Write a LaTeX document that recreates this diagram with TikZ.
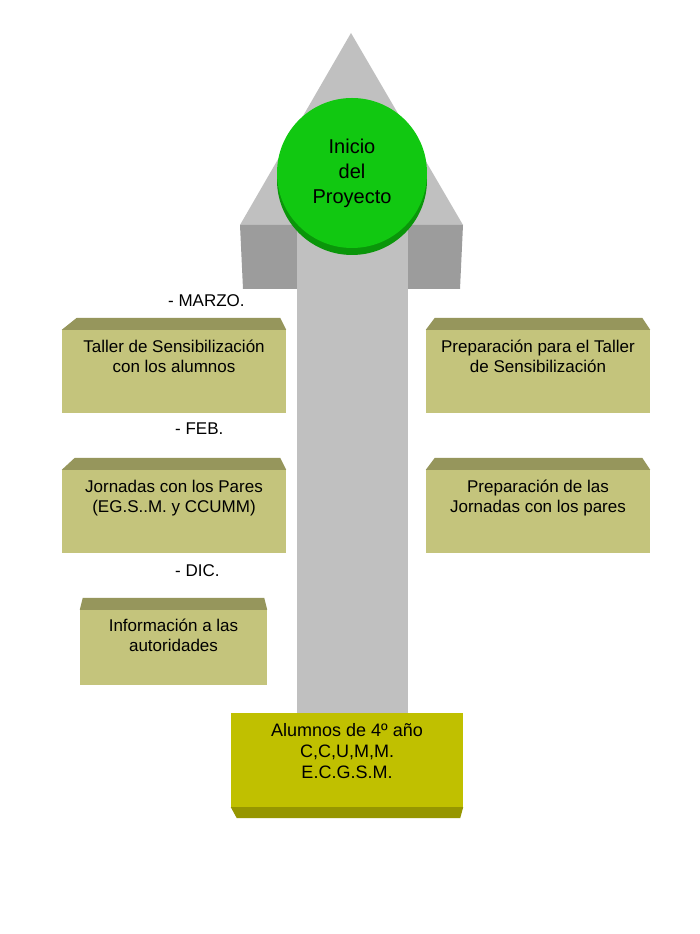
\documentclass[tikz,border=0pt]{standalone}
\usepackage{fontspec}
\setmainfont{Liberation Sans}
\usetikzlibrary{positioning, shadows}

\definecolor{arrowgray}{RGB}{192,192,192}
\definecolor{arrowdark}{RGB}{156,156,156}
\definecolor{startgreen}{RGB}{17,200,17}
\definecolor{startdark}{RGB}{10,150,10}
\definecolor{olive}{RGB}{196,196,124}
\definecolor{olivedark}{RGB}{150,150,92}
\definecolor{baseyellow}{RGB}{192,192,0}
\definecolor{basedark}{RGB}{150,150,0}

\tikzset {
    x=1pt, y=1pt,
    every node/.style={font=\fontsize{17}{20}\selectfont, inner sep=0pt},
    task/.style 2 args={rectangle, fill=olive, minimum width=224pt, minimum height=83pt,
        execute at begin node={\begin{minipage}[c][#1][t]{#2}\centering},
        execute at end node={\end{minipage}}},
    bevel/.style={fill=olivedark},
    month/.style={anchor=west},
    start/.style={circle, fill=startgreen, minimum size=150pt, align=center,
        font=\fontsize{20}{25}\selectfont,
        drop shadow={shadow xshift=0pt, shadow yshift=-7pt, fill=startdark, opacity=1}}
}

\begin{document}
\begin{tikzpicture}
    \path[fill=white] (0,0) rectangle (700,934);
    \useasboundingbox (0,0) rectangle (700,934);

    % arrow
    \fill[arrowgray] (351,901) -- (463,709) -- (240,709) -- cycle;
    \fill[arrowdark] (240,709) -- (463,709) -- (460,645) -- (243,645) -- cycle;
    \fill[arrowgray] (297,709) rectangle (408,221);

    \node[start] (inicio) at (352,761) {Inicio\\del\\Proyecto};

    \node[month] (marzo) at (168,633.5) {- MARZO.};
    \node[month] (feb) at (175,505) {- FEB.};
    \node[month] (dic) at (175,363.5) {- DIC.};

    \node[task={63pt}{210pt}] (taller) at (174,562.5) {Taller de Sensibilización\\con los alumnos};
    \node[task={63pt}{210pt}] (jornadas) at (174,422.5) {Jornadas con los Pares\\(EG.S..M. y CCUMM)};
    \node[task={57pt}{180pt}, minimum width=187pt, minimum height=75pt] (info) at (173.5,286.5) {Información a las\\autoridades};
    \node[task={63pt}{210pt}] (prepTaller) at (538,562.5) {Preparación para el Taller\\de Sensibilización};
    \node[task={63pt}{210pt}] (prepJornadas) at (538,422.5) {Preparación de las\\Jornadas con los pares};

    \foreach \n/\l/\r in {taller/15/6, jornadas/13/6, info/3/3, prepTaller/9/8, prepJornadas/9/8}
        \fill[bevel] (\n.north west) -- (\n.north east) -- ([xshift=-\r pt, yshift=12pt]\n.north east)
            -- ([xshift=\l pt, yshift=12pt]\n.north west) -- cycle;

    \node[task={74pt}{220pt}, fill=baseyellow, minimum width=232pt, minimum height=94pt,
        font=\fontsize{18}{21}\selectfont] (alumnos) at (347,174) {Alumnos de 4º año\\C,C,U,M,M.\\E.C.G.S.M.};
    \fill[basedark] (alumnos.south west) -- (alumnos.south east) -- ([xshift=-3pt, yshift=-11pt]alumnos.south east)
        -- ([xshift=6pt, yshift=-11pt]alumnos.south west) -- cycle;
\end{tikzpicture}
\end{document}
